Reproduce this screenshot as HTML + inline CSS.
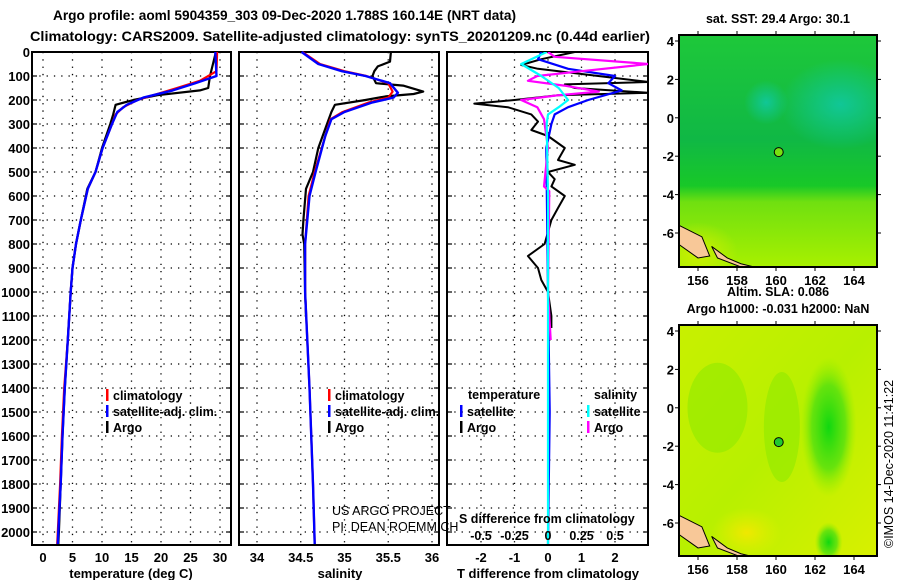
<!DOCTYPE html>
<html><head><meta charset="utf-8">
<style>
html,body{margin:0;padding:0;background:#fff;}
svg{display:block;font-family:"Liberation Sans",sans-serif;font-weight:bold;}
</style></head>
<body>
<svg id="chart" width="900" height="580" viewBox="0 0 900 580" xmlns="http://www.w3.org/2000/svg">
<defs>
<linearGradient id="sstGrad" x1="0" y1="0" x2="0" y2="1">
<stop offset="0" stop-color="#1ec83a"/>
<stop offset="0.45" stop-color="#10b845"/>
<stop offset="0.65" stop-color="#18c828"/>
<stop offset="0.72" stop-color="#70e010"/>
<stop offset="1" stop-color="#a8f000"/>
</linearGradient>
<radialGradient id="sstCyan" cx="0.5" cy="0.5" r="0.5">
<stop offset="0" stop-color="#10c8a0" stop-opacity="0.9"/>
<stop offset="1" stop-color="#10c8a0" stop-opacity="0"/>
</radialGradient>
<linearGradient id="slaGrad" x1="0" y1="0" x2="1" y2="1">
<stop offset="0" stop-color="#c8f000"/>
<stop offset="0.5" stop-color="#b8f000"/>
<stop offset="1" stop-color="#d8f000"/>
</linearGradient>
<radialGradient id="slaGreen" cx="0.5" cy="0.5" r="0.5">
<stop offset="0" stop-color="#10d810"/>
<stop offset="0.6" stop-color="#50e010" stop-opacity="0.8"/>
<stop offset="1" stop-color="#90ee00" stop-opacity="0"/>
</radialGradient>
<radialGradient id="slaYel" cx="0.5" cy="0.5" r="0.5">
<stop offset="0" stop-color="#f0e800"/>
<stop offset="1" stop-color="#e0f000" stop-opacity="0"/>
</radialGradient>
<radialGradient id="sstYel" cx="0.5" cy="0.5" r="0.5">
<stop offset="0" stop-color="#d8f000" stop-opacity="0.8"/>
<stop offset="1" stop-color="#d8f000" stop-opacity="0"/>
</radialGradient>
</defs>
<g id="root"></g>
</svg>
<script>
// ---- data (depth m) ----
const tDepth   = [0,100,150,160,180,200,220,260,300,400,500,570,700,800,900,1000,1200,1400,1600,1800,2000,2050];
const tArgo    = [29.3,28.3,28.0,26.6,19.4,15.3,12.3,11.9,11.4,10.0,8.9,7.5,6.4,5.6,5.0,4.7,4.2,3.7,3.3,3.0,2.7,2.6];
const tClimD   = [0,80,120,150,180,200,230,260,300,400,500,570,700,800,900,1000,1200,1400,1600,1800,2000,2050];
const tClim    = [29.5,29.4,26.6,22.7,18.7,16.0,13.6,12.3,11.7,10.1,8.9,7.6,6.4,5.6,5.0,4.7,4.2,3.6,3.2,2.9,2.5,2.4];
const tSatD    = [0,100,130,160,190,220,250,300,400,500,570,700,800,900,1000,1200,1400,1600,1800,2000,2050];
const tSat     = [29.2,29.4,25.8,22.0,17.0,14.2,12.6,11.7,10.1,8.9,7.6,6.4,5.6,5.0,4.7,4.2,3.7,3.3,3.0,2.6,2.5];

const sArgoD   = [0,40,60,80,100,130,140,165,175,185,200,220,250,300,400,500,570,700,760,800,1000,1100];
const sArgo    = [35.53,35.52,35.38,35.34,35.32,35.36,35.67,35.90,35.79,35.47,35.24,34.89,34.85,34.80,34.70,34.64,34.56,34.53,34.52,34.54,34.55,34.56];
const sClimD   = [0,50,80,100,130,165,190,210,250,280,350,500,600,800,1000,1400,1800,2050];
const sClim    = [34.52,34.72,35.0,35.25,35.5,35.55,35.5,35.28,34.98,34.84,34.78,34.66,34.59,34.55,34.55,34.6,34.64,34.66];
const sSatD    = [0,50,80,100,130,170,190,210,250,280,350,500,600,800,1000,1400,1800,2050];
const sSat     = [34.51,34.70,34.97,35.24,35.52,35.61,35.56,35.32,35.0,34.85,34.78,34.67,34.6,34.55,34.55,34.6,34.64,34.66];

const dTArgoD  = [0,30,54,70,100,125,135,150,170,180,200,215,230,260,290,325,350,400,450,470,500,530,560,600,650,700,800,850,900,950,1000,1100,1150];
const dTArgo   = [0.8,-0.2,-0.8,-0.3,1.5,3.0,0.5,0.8,3.0,0.3,-1.0,-2.2,-1.2,-0.5,-0.3,-0.5,0.0,0.5,0.3,0.8,0.0,0.2,0.1,0.5,0.3,0.1,-0.1,-0.6,-0.3,-0.2,0.0,0.1,0.1];
const dTSatD   = [0,30,70,100,130,160,200,230,260,300,400,1000,1500,2050];
const dTSat    = [-0.2,-0.3,0.6,2.0,1.8,2.2,1.2,0.6,0.2,0.1,-0.05,0.0,0.05,0.0];
const dSArgoD  = [0,20,50,80,100,120,140,165,180,200,230,280,400,560,580,1000,1200];
const dSArgo   = [0.0,0.05,0.75,0.25,-0.08,-0.15,0.12,0.38,0.08,-0.2,-0.08,-0.03,0.0,-0.03,0.01,0.0,0.02];
const dSSatD   = [0,50,100,150,200,230,260,300,600,1000,1500,2050];
const dSSat    = [-0.01,-0.2,-0.05,0.08,0.15,0.08,0.0,-0.01,0.0,0.0,0.0,0.0];

const depthTicks = [0,100,200,300,400,500,600,700,800,900,1000,1100,1200,1300,1400,1500,1600,1700,1800,1900,2000];
const tTicks = [0,5,10,15,20,25,30];
const sTicks = [34,34.5,35,35.5,36];
const dTTicks = [-2,-1,0,1,2];
const dSTickLabels = ['-0.5','-0.25','0','0.25','0.5'];
const latTicks = [4,2,0,-2,-4,-6];
const lonTicks = [156,158,160,162,164];

// ---- helpers ----
const NS='http://www.w3.org/2000/svg';
const root=document.getElementById('root');
function mk(tag,attrs,parent){const e=document.createElementNS(NS,tag);for(const k in attrs)e.setAttribute(k,attrs[k]);(parent||root).appendChild(e);return e;}
function txt(s,x,y,attrs,parent){const e=mk('text',Object.assign({x:x,y:y,'font-size':13},attrs||{}),parent);e.textContent=s;return e;}

const Y0=52, YS=0.24, PB=545;
const yD=d=>Y0+d*YS;
const xT=t=>43+t*(220-43)/30;
const xS=s=>257+(s-34)*(432-257)/2;
const xDT=v=>548+v*(615-481)/4;
const xDS=v=>xDT(v*4);

function panel(name,x1,x2,xticks,xfun,labels){
  const g=mk('g',{});
  
  
  depthTicks.forEach(d=>{if(d>0)mk('line',{x1:x1,x2:x2,y1:yD(d),y2:yD(d),stroke:'#000','stroke-width':1.3,'stroke-dasharray':'1.3,6'},g);
    mk('line',{x1:x1,x2:x1+5,y1:yD(d),y2:yD(d),stroke:'#000','stroke-width':1.2},g);
    mk('line',{x1:x2-5,x2:x2,y1:yD(d),y2:yD(d),stroke:'#000','stroke-width':1.2},g);});
  xticks.forEach((v,i)=>{const x=xfun(v);
    mk('line',{x1:x,x2:x,y1:Y0,y2:PB,stroke:'#000','stroke-width':1.3,'stroke-dasharray':'1.3,6'},g);
    const l=txt(labels?labels[i]:String(v),x,562,{'text-anchor':'middle'},g);
    
    });
  mk('rect',{x:x1,y:Y0,width:x2-x1,height:PB-Y0,fill:'none',stroke:'#000','stroke-width':2},g);
  return g;
}
function line(g,ds,vs,xf,color,w,name){
  const pts=ds.map((d,i)=>xf(vs[i]).toFixed(1)+','+yD(d).toFixed(1)).join(' ');
  const p=mk('polyline',{points:pts,fill:'none',stroke:color,'stroke-width':w,'stroke-linejoin':'round'},g);
  
  
  return p;
}
function legend(g,items,x,y){
  items.forEach((it,i)=>{
    mk('rect',{x:x,y:y+i*16-9,width:2.5,height:12,fill:it[1]},g);
    const t=txt(it[0],x+7,y+i*16+2,{'font-size':12.5},g);
    
    
  });
}

// titles
const t1=txt('Argo profile: aoml 5904359_303 09-Dec-2020 1.788S 160.14E (NRT data)',53,20,{textLength:463,lengthAdjust:'spacingAndGlyphs','font-size':14});

const t2=txt('Climatology: CARS2009. Satellite-adjusted climatology: synTS_20201209.nc (0.44d earlier)',30,41,{textLength:620,lengthAdjust:'spacingAndGlyphs','font-size':14});


// depth labels
depthTicks.forEach(d=>{const l=txt(String(d),30,yD(d)+5,{'text-anchor':'end'});
  });

// panel 1 temperature
const p1=panel('temperature-panel',32,231,tTicks,xT);
line(p1,tDepth,tArgo,xT,'#000',2.2,'temp-argo-line');
line(p1,tClimD,tClim,xT,'#f00',2.2,'temp-clim-line');
line(p1,tSatD,tSat,xT,'#00f',2.4,'temp-satclim-line');
legend(p1,[['climatology','#f00'],['satellite-adj. clim.','#00f'],['Argo','#000']],106,398);
const a1=txt('temperature (deg C)',131,578,{'text-anchor':'middle'},p1);


// panel 2 salinity
const p2=panel('salinity-panel',239,439,sTicks,xS);
line(p2,sArgoD,sArgo,xS,'#000',2.2,'sal-argo-line');
line(p2,sClimD,sClim,xS,'#f00',2.2,'sal-clim-line');
line(p2,sSatD,sSat,xS,'#00f',2.4,'sal-satclim-line');
legend(p2,[['climatology','#f00'],['satellite-adj. clim.','#00f'],['Argo','#000']],328,398);
const a2=txt('salinity',340,578,{'text-anchor':'middle'},p2);

const c1=txt('US ARGO PROJECT',332,515,{'font-weight':'normal','font-size':12.5},p2);

const c2=txt('PI: DEAN ROEMMICH',332,531,{'font-weight':'normal','font-size':12.5},p2);


// panel 3 differences
const p3=panel('difference-panel',447,648,dTTicks,xDT);
const cp=mk('clipPath',{id:'c3'},p3);mk('rect',{x:447,y:Y0,width:201,height:PB-Y0},cp);
const g3=mk('g',{'clip-path':'url(#c3)'},p3);
line(g3,dTArgoD,dTArgo,xDT,'#000',2,'dT-argo-line');
line(g3,dTSatD,dTSat,xDT,'#00f',2.2,'dT-sat-line');
line(g3,dSArgoD,dSArgo,xDS,'#f0f',2.2,'dS-argo-line');
line(g3,dSSatD,dSSat,xDS,'#0ff',2.2,'dS-sat-line');
const lt=txt('temperature',468,399,{'font-size':12.5},p3);
const ls=txt('salinity',594,399,{'font-size':12.5},p3);
legend(p3,[['satellite','#00f'],['Argo','#000']],460,414);
legend(p3,[['satellite','#0ff'],['Argo','#f0f']],587,414);
const sd=txt('S difference from climatology',459,523,{'font-size':12.5},p3);

dSTickLabels.forEach((s,i)=>{const l=txt(s,xDT(dTTicks[i]),540,{'text-anchor':'middle','font-size':12.5},p3);
  });
const a3=txt('T difference from climatology',548,578,{'text-anchor':'middle'},p3);


// maps
function map(name,top,bottom,title,kind){
  const g=mk('g',{});
  
  
  const L=679,R=877;
  const lat2y=la=>top+6+(4-la)*19.2;
  const lon2x=lo=>698+(lo-156)*19.5;
  const cid='clip-'+name;
  const cpm=mk('clipPath',{id:cid},g);mk('rect',{x:L,y:top,width:R-L,height:bottom-top},cpm);
  const f=mk('g',{'clip-path':'url(#'+cid+')'},g);
  if(kind==='sst'){
    mk('rect',{x:L,y:top,width:R-L,height:bottom-top,fill:'url(#sstGrad)'},f);
    mk('ellipse',{cx:lon2x(163.3),cy:lat2y(0.7),rx:60,ry:45,fill:'url(#sstCyan)'},f);
    mk('ellipse',{cx:lon2x(159.5),cy:lat2y(0.8),rx:22,ry:22,fill:'url(#sstCyan)'},f);
    mk('ellipse',{cx:lon2x(156),cy:lat2y(-7),rx:40,ry:30,fill:'url(#sstYel)'},f);
  } else {
    mk('rect',{x:L,y:top,width:R-L,height:bottom-top,fill:'url(#slaGrad)'},f);
    mk('ellipse',{cx:lon2x(157),cy:lat2y(0),rx:30,ry:45,fill:'#90ea00',opacity:0.6},f);
    mk('ellipse',{cx:lon2x(160.3),cy:lat2y(-1),rx:18,ry:55,fill:'#90ea00',opacity:0.6},f);
    mk('ellipse',{cx:lon2x(162.7),cy:lat2y(-1),rx:28,ry:70,fill:'url(#slaGreen)'},f);
    mk('ellipse',{cx:lon2x(162.7),cy:lat2y(-7),rx:14,ry:20,fill:'url(#slaGreen)'},f);
    mk('ellipse',{cx:lon2x(158.5),cy:lat2y(-6.5),rx:35,ry:25,fill:'url(#slaYel)'},f);
  }
  // land
  mk('polygon',{points:[[L,lat2y(-5.6)],[lon2x(156.2),lat2y(-6.2)],[lon2x(156.6),lat2y(-7.2)],[lon2x(156),lat2y(-7.3)],[L,lat2y(-6.6)]].map(p=>p.join(',')).join(' '),fill:'#f8c898',stroke:'#000','stroke-width':1},f);
  mk('polygon',{points:[[lon2x(156.7),lat2y(-6.7)],[lon2x(157.5),lat2y(-7.3)],[lon2x(158.2),lat2y(-7.6)],[lon2x(159),lat2y(-7.8)],[lon2x(158.8),lat2y(-8)],[lon2x(157),lat2y(-7.3)]].map(p=>p.join(',')).join(' '),fill:'#f8c898',stroke:'#000','stroke-width':1},f);
  mk('rect',{x:L,y:top,width:R-L,height:bottom-top,fill:'none',stroke:'#000','stroke-width':2},g);
  const m=mk('circle',{cx:lon2x(160.14),cy:lat2y(-1.788),r:4.5,fill:kind==='sst'?'#78e010':'#20c830',stroke:'#000','stroke-width':1},g);
  
  
  latTicks.forEach(la=>{const y=lat2y(la);
    mk('line',{x1:L-4,x2:L,y1:y,y2:y,stroke:'#000'},g);mk('line',{x1:R,x2:R+4,y1:y,y2:y,stroke:'#000'},g);
    const l=txt(String(la),674,y+5,{'text-anchor':'end'},g);
    });
  lonTicks.forEach(lo=>{const x=lon2x(lo);
    mk('line',{x1:x,x2:x,y1:top-4,y2:top,stroke:'#000'},g);mk('line',{x1:x,x2:x,y1:bottom,y2:bottom+4,stroke:'#000'},g);
    const l=txt(String(lo),x,bottom+18,{'text-anchor':'middle'},g);
    });
  title.forEach((s,i)=>{const t=txt(s,778,top-(title.length-i)*17+5,{'text-anchor':'middle','font-size':12.5},g);
    });
}
map('sst-map',35,267,['sat. SST: 29.4 Argo: 30.1'],'sst');
map('sla-map',325,556,['Altim. SLA: 0.086','Argo h1000: -0.031 h2000: NaN'],'sla');
const ts=txt('©IMOS 14-Dec-2020 11:41:22',893,548,{'font-weight':'normal','font-size':12.5,transform:'rotate(-90 893 548)'});

</script>
</body></html>
